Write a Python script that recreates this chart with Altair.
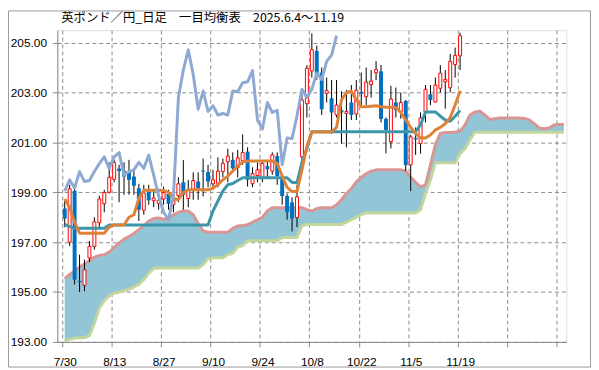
import altair as alt
import pandas as pd

title_text = "英ポンド／円_日足　一目均衡表　2025.6.4～11.19"
x_labels = ["7/30", "8/13", "8/27", "9/10", "9/24", "10/8", "10/22", "11/5", "11/19", "", ""]
y_ticks = [193, 195, 197, 199, 201, 203, 205]

opens = [198.35, 197.0, 199.06, 195.45, 195.27, 196.37, 196.83, 197.78, 198.54, 199.0,
         199.52, 199.95, 199.86, 199.83, 199.63, 199.16, 198.28, 199.03, 198.66, 198.55,
         198.73, 198.94, 198.5, 198.86, 199.4, 198.75, 199.1, 199.43, 199.87, 199.81,
         199.34, 199.36, 199.83, 200.22, 200.3, 199.99, 200.26, 200.63, 199.34, 199.67,
         199.55, 200.05, 199.85, 200.45, 199.6, 198.85, 198.6, 197.99, 200.42, 202.55,
         203.86, 204.67, 203.8, 202.97, 202.77, 202.1, 202.29, 202.16, 202.6, 202.14,
         203.03, 202.83, 203.32, 203.79, 203.85, 201.94, 201.03, 202.6, 202.24, 202.66,
         200.1, 201.18, 200.95, 202.22, 202.93, 202.62, 203.17, 203.43, 203.19, 204.12,
         204.47]
highs = [198.65, 199.3, 199.2, 196.5, 196.3, 197.05, 198.0, 198.86, 199.1, 200.2,
         200.3, 200.1, 200.2, 200.3, 199.9, 199.34, 199.3, 199.3, 199.1, 199.1,
         199.23, 199.1, 198.9, 199.6, 200.29, 199.5, 199.8, 199.8, 200.35, 200.1,
         199.9, 200.4, 200.35, 200.75, 200.6, 200.7, 201.32, 200.8, 200.0, 200.2,
         200.3, 200.3, 200.6, 200.6, 199.7, 198.95, 198.8, 199.3, 203.0, 204.1,
         205.37, 204.88, 204.0, 203.6, 203.5, 203.5, 203.05, 203.1, 203.3, 203.5,
         203.8, 204.0, 203.9, 204.26, 204.1, 202.0, 203.27, 203.2, 203.0, 202.7,
         201.3, 201.6, 202.2, 203.3, 203.3, 203.6, 204.1, 203.9, 204.55, 204.8,
         205.4]
lows = [197.6, 196.85, 195.3, 195.0, 195.03, 196.2, 196.7, 197.6, 198.2, 198.95,
        199.4, 198.6, 198.9, 198.9, 198.9, 197.85, 198.1, 198.5, 198.4, 198.3,
        198.5, 198.3, 198.2, 198.6, 198.3, 198.4, 198.7, 198.7, 198.83, 199.2,
        199.1, 199.2, 199.6, 199.4, 199.8, 199.6, 200.1, 199.23, 199.2, 199.4,
        199.4, 199.6, 199.7, 199.3, 198.5, 197.9, 197.43, 197.6, 200.3, 202.0,
        203.6, 203.5, 202.1, 202.6, 201.35, 202.0, 200.95, 200.8, 201.9, 201.9,
        202.4, 202.5, 202.8, 203.5, 201.8, 200.56, 200.76, 202.0, 201.95, 199.85,
        199.05, 200.5, 200.55, 201.8, 202.5, 202.6, 203.0, 202.35, 203.0, 203.6,
        203.9]
closes = [197.95, 199.14, 195.5, 195.4, 195.89, 196.83, 197.82, 198.73, 198.99, 199.6,
          200.19, 199.85, 199.63, 199.5, 199.26, 198.3, 198.97, 198.68, 198.77, 198.68,
          198.99, 198.54, 198.7, 199.34, 198.9, 199.1, 199.47, 199.17, 199.83, 199.43,
          199.5, 199.85, 200.16, 200.45, 199.96, 200.38, 200.59, 199.5, 199.75, 199.9,
          200.15, 199.92, 200.5, 199.65, 198.85, 198.2, 197.95, 198.82, 202.7, 203.97,
          204.72, 203.75, 202.33, 203.08, 202.2, 202.5, 202.2, 202.24, 202.1, 203.09,
          202.95, 203.42, 203.46, 203.92, 201.94, 201.5, 202.74, 202.3, 202.6, 200.09,
          201.22, 201.12, 201.98, 203.13, 202.7, 203.3, 203.78, 203.52, 204.25, 204.49,
          205.28]

tenkan = [198.73, 198.4, 197.8, 197.36, 197.36, 197.36, 197.36, 197.36, 197.36, 197.6,
          197.69, 197.69, 197.69, 198.0, 198.1, 198.75, 199.08, 199.08, 199.08, 199.08,
          199.08, 199.0, 198.75, 198.7, 199.0, 199.1, 199.1, 199.1, 199.1, 199.1,
          199.17, 199.3, 199.5, 199.65, 199.85, 200.05, 200.22, 200.25, 200.25, 200.25,
          200.25, 200.25, 200.25, 200.15, 199.65, 199.2, 199.03, 199.03, 199.9, 200.85,
          201.42, 201.42, 201.42, 201.42, 201.42, 201.6, 202.7, 203.0, 203.05, 202.7,
          202.43, 202.43, 202.45, 202.47, 202.43, 202.41, 202.41, 202.4, 202.2, 201.9,
          201.6, 201.35, 201.18, 201.18, 201.3, 201.5, 201.6, 201.75, 202.0, 202.5,
          203.07]
kijun = [197.71, 197.62, 197.56, 197.56, 197.56, 197.56, 197.56, 197.56, 197.56, 197.69,
         197.69, 197.69, 197.69, 197.69, 197.69, 197.69, 197.69, 197.69, 197.69, 197.69,
         197.69, 197.69, 197.69, 197.69, 197.69, 197.69, 197.69, 197.69, 197.69, 197.69,
         198.25, 198.65, 199.05, 199.3, 199.35, 199.47, 199.58, 199.58, 199.58, 199.58,
         199.58, 199.58, 199.58, 199.58, 199.58, 199.58, 199.4, 199.38, 200.2, 200.75,
         201.43, 201.43, 201.43, 201.43, 201.43, 201.43, 201.43, 201.43, 201.43, 201.43,
         201.43, 201.43, 201.43, 201.43, 201.43, 201.43, 201.43, 201.43, 201.43, 201.43,
         201.43, 201.43, 201.7, 202.22, 202.22, 202.22, 202.05, 201.9, 201.85, 202.05,
         202.28]
chikou = [199.05, 199.5, 199.17, 199.83, 199.43, 199.47, 199.83, 200.15, 200.42, 199.96,
          200.42, 200.59, 199.69, 199.83, 199.9, 200.2, 199.96, 200.49, 199.69, 198.85,
          198.2, 197.9, 198.84, 202.8, 203.9, 204.71, 203.72, 202.33, 203.06, 202.24,
          202.47, 202.1, 202.16, 202.1, 203.06, 203.03, 203.39, 203.43, 203.88, 201.9,
          201.54, 202.6, 202.2, 202.29, 200.1, 201.18, 201.15, 202.07, 203.13, 202.8,
          203.13, 203.78, 203.52, 204.25, 204.5, 205.28]
span_a = [195.55, 195.7, 195.85, 196.0, 196.12, 196.25, 196.4, 196.47, 196.5, 196.6,
          196.78, 196.97, 197.12, 197.22, 197.35, 197.5, 197.65, 197.85, 197.95, 197.97,
          197.92, 197.95, 198.1, 198.2, 198.25, 198.25, 198.1, 197.75, 197.45, 197.4,
          197.4, 197.4, 197.4, 197.4, 197.55, 197.65, 197.67, 197.7, 197.8, 197.9,
          198.0, 198.25, 198.38, 198.38, 198.38, 198.38, 198.38, 198.38, 198.38, 198.3,
          198.25, 198.35, 198.38, 198.38, 198.38, 198.5, 198.7, 198.95, 199.15, 199.42,
          199.6, 199.74, 199.85, 199.9, 199.9, 199.9, 199.9, 199.9, 199.9, 199.85,
          199.6, 199.4, 199.22, 199.3, 200.1, 200.9, 201.36, 201.4, 201.4, 201.42,
          201.45, 201.7, 202.1, 202.22, 202.25, 202.1, 201.92, 201.95, 201.98, 201.98,
          201.98, 201.98, 201.98, 201.96, 201.9, 201.75, 201.58, 201.55, 201.58, 201.7,
          201.72, 201.72]
span_b = [193.03, 193.1, 193.15, 193.17, 193.17, 193.25, 193.75, 194.35, 194.65, 194.85,
          194.95, 195.0, 195.05, 195.12, 195.2, 195.3, 195.5, 195.75, 195.95, 195.96,
          195.96, 195.96, 195.96, 195.96, 195.96, 195.96, 195.96, 195.96, 196.1, 196.33,
          196.37, 196.37, 196.37, 196.5, 196.55, 196.8, 196.86, 197.06, 197.06, 197.06,
          197.06, 197.06, 197.06, 197.06, 197.19, 197.19, 197.19, 197.19, 197.65, 197.71,
          197.71, 197.71, 197.71, 197.71, 197.71, 197.71, 197.71, 197.8, 197.9, 198.0,
          198.1, 198.17, 198.17, 198.17, 198.17, 198.17, 198.17, 198.17, 198.17, 198.17,
          198.17, 198.17, 198.3, 198.95, 199.5, 200.18, 200.18, 200.18, 200.18, 200.18,
          200.55, 200.75, 201.1, 201.41, 201.41, 201.41, 201.41, 201.41, 201.41, 201.41,
          201.41, 201.41, 201.41, 201.41, 201.41, 201.41, 201.41, 201.41, 201.41, 201.41,
          201.41, 201.41]

# ---- tables
candles = pd.DataFrame({"i": range(len(closes)), "open": opens, "high": highs,
                        "low": lows, "close": closes})
up = candles[candles["close"] >= candles["open"]]
down = candles[candles["close"] < candles["open"]]
tk = pd.DataFrame({"i": range(len(tenkan)), "v": tenkan})
kj = pd.DataFrame({"i": range(len(kijun)), "v": kijun})
ck = pd.DataFrame({"i": range(len(chikou)), "v": chikou})
cloud = pd.DataFrame({"i": range(len(span_a)), "a": span_a, "b": span_b})

GRID = "#8a8a8a"
FONT = "Liberation Sans"
grid_x = [-0.5 + 10 * k for k in range(len(x_labels))]
label_js = "[" + ",".join("'%s'" % s for s in x_labels) + "]"

xscale = alt.Scale(domain=[-0.5, 100.5], nice=False, zero=False)
yscale = alt.Scale(domain=[193, 205.5], nice=False, zero=False)
xaxis = alt.Axis(values=grid_x, title=None, grid=True, gridColor=GRID, gridDash=[4, 3],
                 gridWidth=1, tickSize=5, tickColor=GRID, domainColor=GRID,
                 labelExpr=label_js + "[round((datum.value + 0.5) / 10)]",
                 labelOffset=2.6, labelPadding=10, labelAngle=0, labelFont=FONT,
                 labelFontSize=12, labelColor="#000000", labelOverlap=False,
                 labelFlush=False)
yaxis = alt.Axis(values=y_ticks, format=".2f", title=None, grid=True, gridColor=GRID,
                 gridDash=[4, 3], gridWidth=1, tickSize=5, tickColor=GRID,
                 domainColor=GRID, labelPadding=6, labelFont=FONT, labelFontSize=12,
                 labelColor="#000000")


def X():
    return alt.X("i:Q", scale=xscale, axis=xaxis)


def Y(f):
    return alt.Y(f + ":Q", scale=yscale, axis=yaxis)


area = alt.Chart(cloud).mark_area(color="#92C5D6", opacity=1, clip=True,
                                  interpolate="linear").encode(
    x=X(), y=Y("a"), y2="b:Q")
line_a = alt.Chart(cloud).mark_line(color="#D99694", strokeWidth=3, clip=True,
                                    strokeJoin="round").encode(x=X(), y=Y("a"))
line_b = alt.Chart(cloud).mark_line(color="#C3D69B", strokeWidth=3, clip=True,
                                    strokeJoin="round").encode(x=X(), y=Y("b"))

wick = alt.Chart(candles).mark_rule(color="#000000", strokeWidth=1).encode(
    x=X(), y=Y("low"), y2="high:Q")
body_up = alt.Chart(up).mark_bar(size=3, fill="#FFFFFF", stroke="#FF0000",
                                 strokeWidth=1).encode(x=X(), y=Y("open"), y2="close:Q")
body_dn = alt.Chart(down).mark_bar(size=4, color="#0070C0").encode(
    x=X(), y=Y("open"), y2="close:Q")

kijun_l = alt.Chart(kj).mark_line(color="#3C96AA", strokeWidth=3,
                                  strokeJoin="round").encode(x=X(), y=Y("v"))
tenkan_l = alt.Chart(tk).mark_line(color="#DE8238", strokeWidth=3,
                                   strokeJoin="round").encode(x=X(), y=Y("v"))
chikou_l = alt.Chart(ck).mark_line(color="#8EA9D3", strokeWidth=3,
                                   strokeJoin="round").encode(x=X(), y=Y("v"))

title = alt.Chart(pd.DataFrame({"t": [title_text]})).mark_text(
    align="left", baseline="middle", font="Noto Sans CJK JP", fontSize=12.5,
    color="#000000").encode(x=alt.value(4), y=alt.value(-12), text="t:N")

frame = alt.Chart(pd.DataFrame({"k": [0]})).mark_rect(
    fill="#FFFFFF", fillOpacity=0, stroke="#9a9a9a", strokeWidth=1).encode(
    x=alt.value(-49.5), x2=alt.value(540.5), y=alt.value(-19.5), y2=alt.value(341.5))

chart = alt.layer(area, line_a, line_b, wick, body_up, body_dn, kijun_l, tenkan_l,
                  chikou_l, title, frame).properties(
    width=516, height=316,
    autosize=alt.AutoSizeParams(type="none"),
    padding={"left": 50, "top": 20, "right": 25, "bottom": 26},
).configure_view(stroke=GRID, strokeWidth=1).configure(background="#FFFFFF")

chart.save("out.html", embed_options={"renderer": "svg", "actions": False})
